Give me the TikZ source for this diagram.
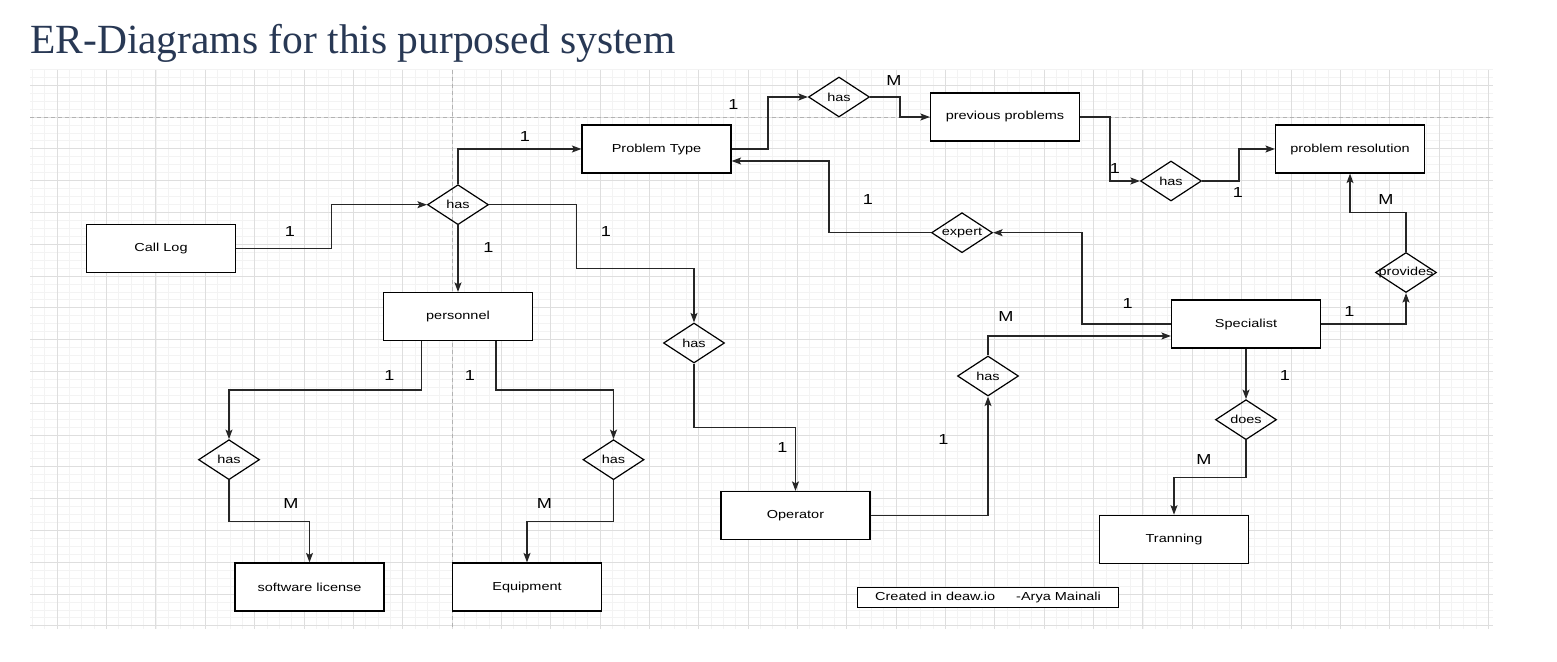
\documentclass[tikz,border=0pt]{standalone}
\usepackage{fontspec}
\setmainfont{Liberation Serif}
\newfontfamily\drawfont[FakeStretch=1.25]{Liberation Sans}
\usetikzlibrary{shapes.geometric,arrows.meta}
\definecolor{titleblue}{RGB}{40,56,84}
\definecolor{minorgrid}{RGB}{243,243,243}
\definecolor{majorgrid}{RGB}{222,222,222}
\newcommand\reltext[1]{\makebox[0pt]{#1}}
\begin{document}
\begin{tikzpicture}[x=1pt,y=-1pt,>={Stealth[length=9.5pt,width=7pt,inset=2pt]},
  entity/.style={draw,fill=white,line width=1.2pt,minimum width=149pt,minimum height=48pt,inner sep=0pt,font=\drawfont\fontsize{11.6}{14}\selectfont},
  rel/.style={diamond,draw,line width=1.2pt,minimum width=61pt,minimum height=40pt,inner sep=0pt,font=\drawfont\fontsize{11.6}{14}\selectfont},
  card/.style={font=\drawfont\fontsize{14.5}{16}\selectfont},
  link/.style={->,line width=1.2pt,draw=black!85}]
\useasboundingbox (0,0) rectangle (1557,661);
\fill[white] (0,0) rectangle (1557,661);
% grid
\foreach \i in {-34,...,84} \draw[minorgrid,line width=.8pt] ({452+12.3375*\i},69.5) -- ({452+12.3375*\i},629);
\foreach \i in {-6,...,64} \draw[minorgrid,line width=.8pt] (30,{117+7.95*\i}) -- (1493,{117+7.95*\i});
\foreach \i in {-8,...,21} \draw[majorgrid,line width=.9pt] ({452+49.35*\i},69.5) -- ({452+49.35*\i},629);
\foreach \i in {-1,...,16} \draw[majorgrid,line width=.9pt] (30,{117+31.8*\i}) -- (1493,{117+31.8*\i});
\draw[gray!60,line width=.9pt,dash pattern=on 4pt off 3pt] (30,117) -- (1493,117);
\draw[gray!60,line width=.9pt,dash pattern=on 4pt off 3pt] (452,69.5) -- (452,629);

\node[anchor=base west,text=titleblue,font=\fontsize{41.5}{48}\selectfont,inner sep=0pt] (title) at (30,53.3) {ER-Diagrams for this purposed system};

% entities
\node[entity] (callLog) at (161,248.5) {Call Log};
\node[entity] (probType) at (656.5,149) {Problem Type};
\node[entity] (prevProb) at (1005,117) {previous problems};
\node[entity] (probRes) at (1350,149) {problem resolution};
\node[entity] (personnel) at (458,316.5) {personnel};
\node[entity] (specialist) at (1246,324) {Specialist};
\node[entity] (operator) at (795.5,515.5) {Operator};
\node[entity] (training) at (1174,539.3) {Tranning};
\node[entity] (software) at (309.5,587) {software license};
\node[entity] (equipment) at (527,587) {Equipment};

% relations
\node[rel] (hasA) at (458,204.7) {\reltext{has}};
\node[rel] (hasPrev) at (839,97) {\reltext{has}};
\node[rel] (hasRes) at (1171,181) {\reltext{has}};
\node[rel] (expert) at (962,232.7) {\reltext{expert}};
\node[rel] (provides) at (1406,272.5) {\reltext{provides}};
\node[rel] (hasOp) at (694,343) {\reltext{has}};
\node[rel] (hasSp) at (988,376) {\reltext{has}};
\node[rel] (does) at (1246,419.7) {\reltext{does}};
\node[rel] (hasSw) at (229,459.7) {\reltext{has}};
\node[rel] (hasEq) at (613.5,459.7) {\reltext{has}};

% connectors
\draw[link] (callLog.east) -- (331.5,248.5) |- (hasA.west);
\draw[link] (hasA.north) |- (probType.west);
\draw[link] (hasA.south) -- (personnel.north);
\draw[link] (hasA.east) -| (576.5,268.3) -| (hasOp.north);
\draw[link] (hasOp.south) -- (694,427.7) -| (operator.north);
\draw[link] (operator.east) -| (hasSp.south);
\draw[link] (hasSp.north) |- ([yshift=-12pt]specialist.west);
\draw[link] (specialist.west) -- (1082,324) |- (expert.east);
\draw[link] (expert.west) -| (829,161) -- ([yshift=-12pt]probType.east);
\draw[link] (probType.east) -- (768,149) |- (hasPrev.west);
\draw[link] (hasPrev.east) -- (900,97) |- (prevProb.west);
\draw[link] (prevProb.east) -- (1110,117) |- (hasRes.west);
\draw[link] (hasRes.east) -- (1239,181) |- (probRes.west);
\draw[link] (specialist.east) -| (provides.south);
\draw[link] (provides.north) -- (1406,212.7) -| (probRes.south);
\draw[link] (specialist.south) -- (does.north);
\draw[link] (does.south) -- (1246,477.7) -| (training.north);
\draw[link] ([xshift=-36.5pt]personnel.south) -- (421.5,390) -| (hasSw.north);
\draw[link] ([xshift=38pt]personnel.south) -- (496,390) -| (hasEq.north);
\draw[link] (hasSw.south) -- (229,521.3) -| (software.north);
\draw[link] (hasEq.south) -- (613.5,521.3) -| (equipment.north);

% cardinalities
\foreach \x/\y/\t [count=\i] in {290/232/1, 525/137/1, 488.5/248/1, 606/232/1, 733.5/105/1,
  894/81/M, 1115/168.3/1, 1238/192.7/1, 1386/200/M, 1349.5/311.7/1, 1127.6/304/1,
  868/200/1, 1006/316.7/M, 943.4/439.3/1, 782.4/447.3/1, 1285/376/1, 1204/459.3/M,
  389.5/375.7/1, 470/375.7/1, 291/503.3/M, 544.5/503.3/M}
  \node[card] (card\i) at (\x,\y) {\t};

\node[draw,fill=white,line width=1.2pt,minimum width=261pt,minimum height=20pt,inner sep=0pt,font=\drawfont\fontsize{11.6}{14}\selectfont] (credit) at (988,597.3) {Created in deaw.io\hspace{21pt}-Arya Mainali};
\end{tikzpicture}
\end{document}
